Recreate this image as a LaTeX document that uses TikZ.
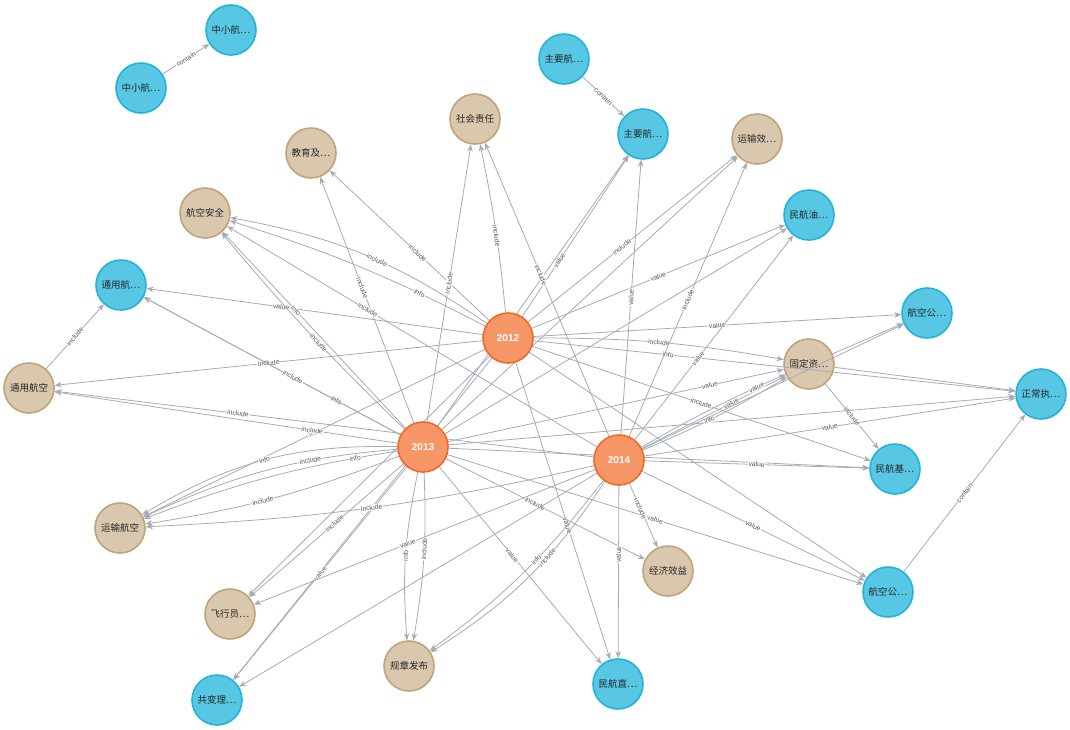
\documentclass[tikz,border=0pt]{standalone}
\usepackage{fontspec}
\setmainfont{Liberation Sans}
\newfontfamily\cjk{Noto Sans CJK SC}
\usetikzlibrary{arrows.meta}
\definecolor{bfill}{HTML}{57C7E3}
\definecolor{bline}{HTML}{23B3D7}
\definecolor{tfill}{HTML}{D9C8AE}
\definecolor{tline}{HTML}{C0A378}
\definecolor{ofill}{HTML}{F79767}
\definecolor{oline}{HTML}{F36924}
\definecolor{ecol}{HTML}{A5ABB6}
\definecolor{lcol}{HTML}{555555}
\begin{document}
\begin{tikzpicture}[x=1pt,y=-1pt,
  gnode/.style={circle,minimum size=50pt,inner sep=0pt,line width=1.6pt,font=\cjk\fontsize{9.5}{10}\selectfont,text=black!85},
  bnode/.style={gnode,fill=bfill,draw=bline},
  tnode/.style={gnode,fill=tfill,draw=tline},
  onode/.style={circle,minimum size=50pt,inner sep=0pt,line width=1.6pt,fill=ofill,draw=oline,text=white,font=\bfseries\fontsize{10}{11}\selectfont},
  hole/.style={circle,minimum size=50pt,inner sep=0pt},
  e/.style={draw=ecol,line width=0.8pt,-{Stealth[length=7pt,width=5.5pt]}},
  elab/.style={sloped,fill=white,inner sep=0.6pt,text=lcol,font=\fontsize{6.8}{7}\selectfont}]
\useasboundingbox (0,0) rectangle (1070,729);
% nodes
\node[bnode] (zxA) at (231,30) {中小航…};
\node[bnode] (zxB) at (141,88) {中小航…};
\node[bnode] (zyA) at (564,59) {主要航…};
\node[bnode] (zyB) at (643,134) {主要航…};
\node[tnode] (shzr) at (475,119) {社会责任};
\node[tnode] (jy) at (311,153) {教育及…};
\node[tnode] (ysx) at (757,139) {运输效…};
\node[tnode] (hkaq) at (205,213) {航空安全};
\node[bnode] (mhy) at (809,215) {民航油…};
\node[bnode] (tyh) at (121,285) {通用航…};
\node[bnode] (hkgA) at (927,313) {航空公…};
\node[tnode] (gdz) at (809,364) {固定资…};
\node[tnode] (tyhk) at (29,388) {通用航空};
\node[bnode] (zcz) at (1041,394) {正常执…};
\node[bnode] (mhj) at (895,469) {民航基…};
\node[tnode] (yshk) at (120,528) {运输航空};
\node[tnode] (jjxy) at (668,571) {经济效益};
\node[bnode] (hkgB) at (888,592) {航空公…};
\node[tnode] (fxy) at (230,614) {飞行员…};
\node[tnode] (gzfb) at (409,666) {规章发布};
\node[bnode] (mhz) at (618,684) {民航直…};
\node[bnode] (gbl) at (217,700) {共变理…};
% edges between the other nodes
\draw[e] (zxB) -- node[elab]{contain} (zxA);
\draw[e] (zyA) -- node[elab]{contain} (zyB);
\draw[e] (tyhk) -- node[elab]{include} (tyh);
\draw[e] (hkgB) -- node[elab]{contain} (zcz);
\draw[e] (gdz) -- (hkgA);
\draw[e] (gdz) -- (zcz);
\draw[e] (gdz) -- node[elab]{include} (mhj);
% year anchors (drawn on top at the end)
\node[hole] (y12) at (508,338) {};
\node[hole] (y13) at (423,447) {};
\node[hole] (y14) at (619,460) {};
% 2012
\draw[e] (y12) to[bend right=3] node[elab,pos=0.45]{include} (shzr);
\draw[e] (y12) -- node[elab,pos=0.45]{include} (jy);
\draw[e] (y12) to[bend right=12] node[elab,pos=0.45]{include} (hkaq);
\draw[e] (y12) to[bend right=5] node[elab,pos=0.25]{info} (hkaq);
\draw[e] (y12) -- node[elab,pos=0.6]{value} (tyh);
\draw[e] (y12) -- node[elab,pos=0.5]{include} (tyhk);
\draw[e] (y12) -- node[elab,pos=0.35]{value} (zyB);
\draw[e] (y12) -- node[elab,pos=0.45]{include} (ysx);
\draw[e] (y12) -- node[elab,pos=0.5]{value} (mhy);
\draw[e] (y12) -- node[elab,pos=0.5]{value} (hkgA);
\draw[e] (y12) to[bend left=5] node[elab,pos=0.5]{include} (gdz);
\draw[e] (y12) -- node[elab,pos=0.28]{info} (zcz);
\draw[e] (y12) -- node[elab,pos=0.5]{include} (mhj);
\draw[e] (y12) -- (hkgB);
\draw[e] (y12) -- node[elab,pos=0.55]{value} (mhz);
\draw[e] (y12) -- node[elab,pos=0.5]{info} (yshk);
\draw[e] (y12) -- (fxy);
\draw[e] (y12) -- (gbl);
% 2013
\draw[e] (y13) -- node[elab,pos=0.5]{include} (shzr);
\draw[e] (y13) -- node[elab,pos=0.55]{include} (jy);
\draw[e] (y13) -- node[elab,pos=0.6]{info} (hkaq);
\draw[e] (y13) to[bend left=3] node[elab,pos=0.45]{include} (hkaq);
\draw[e] (y13) -- node[elab,pos=0.25]{info} (tyh);
\draw[e] (y13) -- node[elab,pos=0.42]{include} (tyh);
\draw[e] (y13) -- node[elab,pos=0.25]{include} (tyhk);
\draw[e] (y13) to[bend right=16] node[elab,pos=0.5]{info} (yshk);
\draw[e] (y13) to[bend right=10] node[elab,pos=0.32]{include} (yshk);
\draw[e] (y13) to[bend right=6] node[elab,pos=0.15]{info} (yshk);
\draw[e] (y13) to[bend left=6] node[elab,pos=0.55]{include} (yshk);
\draw[e] (y13) -- node[elab,pos=0.45]{include} (fxy);
\draw[e] (y13) -- node[elab,pos=0.5]{value} (gbl);
\draw[e] (y13) to[bend right=8] node[elab,pos=0.5]{info} (gzfb);
\draw[e] (y13) to[bend left=6] node[elab,pos=0.45]{include} (gzfb);
\draw[e] (y13) -- node[elab,pos=0.45]{value} (mhz);
\draw[e] (y13) -- node[elab,pos=0.45]{include} (jjxy);
\draw[e] (y13) -- node[elab,pos=0.5]{value} (hkgB);
\draw[e] (y13) -- (mhj);
\draw[e] (y13) -- (zcz);
\draw[e] (y13) -- node[elab,pos=0.78]{value} (gdz);
\draw[e] (y13) -- (mhy);
\draw[e] (y13) -- (zyB);
\draw[e] (y13) -- (ysx);
% 2014
\draw[e] (y14) -- node[elab,pos=0.55]{include} (shzr);
\draw[e] (y14) -- node[elab,pos=0.5]{value} (zyB);
\draw[e] (y14) -- node[elab,pos=0.5]{include} (ysx);
\draw[e] (y14) -- node[elab,pos=0.4]{value} (mhy);
\draw[e] (y14) -- node[elab,pos=0.62]{value} (gdz);
\draw[e] (y14) to[bend right=4] node[elab,pos=0.45]{info} (gdz);
\draw[e] (y14) to[bend left=3] node[elab,pos=0.82]{value} (gdz);
\draw[e] (y14) -- (hkgA);
\draw[e] (y14) -- node[elab,pos=0.5]{value} (zcz);
\draw[e] (y14) -- node[elab,pos=0.5]{value} (mhj);
\draw[e] (y14) -- node[elab,pos=0.5]{value} (hkgB);
\draw[e] (y14) -- node[elab,pos=0.4]{include} (jjxy);
\draw[e] (y14) -- node[elab,pos=0.4]{value} (mhz);
\draw[e] (y14) to[bend left=8] node[elab,pos=0.42]{info} (gzfb);
\draw[e] (y14) to[bend left=12] node[elab,pos=0.38]{include} (gzfb);
\draw[e] (y14) -- node[elab,pos=0.55]{value} (fxy);
\draw[e] (y14) -- (gbl);
\draw[e] (y14) to[bend left=5] node[elab,pos=0.5]{include} (yshk);
\draw[e] (y14) -- node[elab,pos=0.66]{include} (tyhk);
\draw[e] (y14) -- node[elab,pos=0.62]{include} (hkaq);
% year nodes on top
\node[onode] at (y12) {2012};
\node[onode] at (y13) {2013};
\node[onode] at (y14) {2014};
\end{tikzpicture}
\end{document}
